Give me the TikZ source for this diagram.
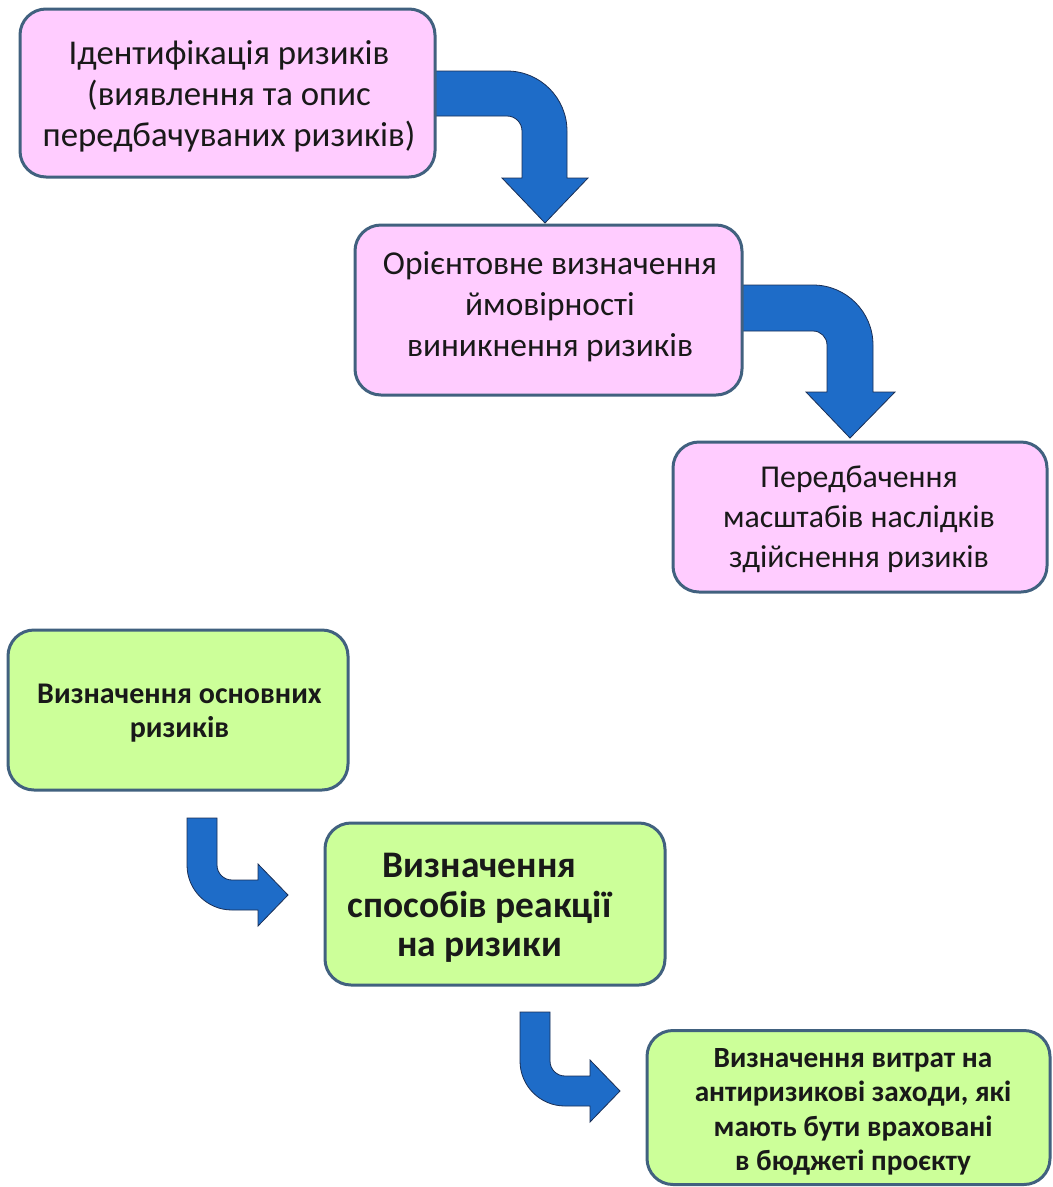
\documentclass[tikz,border=0pt]{standalone}
\usepackage{fontspec}
\setmainfont{Carlito}
\definecolor{pinkfill}{HTML}{FFCCFF}
\definecolor{greenfill}{HTML}{CCFF99}
\definecolor{boxline}{HTML}{41617F}
\definecolor{arrowblue}{HTML}{1E6CC8}
\definecolor{arrowline}{HTML}{1A2F55}
\newcommand\tstr{\rule{0pt}{0.8em}}
\newcommand\bstr{\rule[-0.25em]{0pt}{0.25em}}
\begin{document}
\begin{tikzpicture}[x=1pt,y=-1pt,
  pinkbox/.style={draw=boxline, line width=3pt, fill=pinkfill, rounded corners=26pt, inner sep=0pt},
  greenbox/.style={draw=boxline, line width=3pt, fill=greenfill, rounded corners=26pt, inner sep=0pt},
  boxtext/.style={align=center, inner sep=0pt, text=black!90},
  blockarrow/.style={fill=arrowblue, draw=arrowline, line width=0.8pt, line join=miter}]
\useasboundingbox[fill=white] (0,0) rectangle (1053,1187);

% block arrows (drawn first, boxes overlap their ends)
\draw[blockarrow] (430,71) -- (507,71) arc[start angle=-90,end angle=0,radius=60]
  -- (567,178) -- (588,178) -- (545,223) -- (502,178) -- (522,178) -- (522,131)
  arc[start angle=0,end angle=-90,radius=15] -- (430,116) -- cycle;
\draw[blockarrow] (736,285) -- (813,285) arc[start angle=-90,end angle=0,radius=60]
  -- (873,392) -- (895,392) -- (850,438) -- (806,392) -- (827,392) -- (827,345)
  arc[start angle=0,end angle=-90,radius=14] -- (736,331) -- cycle;
\draw[blockarrow] (187,818) -- (187,865) arc[start angle=180,end angle=90,radius=45]
  -- (258,910) -- (258,926) -- (288,895) -- (258,864) -- (258,880) -- (232,880)
  arc[start angle=90,end angle=180,radius=15] -- (217,818) -- cycle;
\draw[blockarrow] (520,1012) -- (520,1061) arc[start angle=180,end angle=90,radius=45]
  -- (590,1106) -- (590,1122) -- (620,1091) -- (590,1060) -- (590,1076) -- (565,1076)
  arc[start angle=90,end angle=180,radius=15] -- (550,1012) -- cycle;

% pink boxes
\node[pinkbox, minimum width=415pt, minimum height=168pt] (b1) at (227.5,93) {};
\node[boxtext, font=\fontsize{34.8pt}{41pt}\selectfont] (b1t) at (229,96.4)
  {\tstr Ідентифікація ризиків\\(виявлення та опис\\передбачуваних ризиків)\bstr};
\node[pinkbox, minimum width=387pt, minimum height=170pt] (b2) at (548.5,310) {};
\node[boxtext, font=\fontsize{33.4pt}{41pt}\selectfont] (b2t) at (550,306.8)
  {\tstr Орієнтовне визначення\\ймовірності\\виникнення ризиків\bstr};
\node[pinkbox, minimum width=374pt, minimum height=150pt] (b3) at (860,517) {};
\node[boxtext, font=\fontsize{31.8pt}{40pt}\selectfont] (b3t) at (859,518.3)
  {\tstr Передбачення\\масштабів наслідків\\здійснення ризиків\bstr};

% green boxes
\node[greenbox, minimum width=340pt, minimum height=160pt] (g1) at (178,710) {};
\node[boxtext, font=\fontsize{30pt}{34pt}\selectfont\bfseries] (g1t) at (179.5,711.8)
  {\tstr Визначення основних\\ризиків\bstr};
\node[greenbox, minimum width=340pt, minimum height=162pt] (g2) at (495,904) {};
\node[boxtext, font=\fontsize{37.5pt}{39.5pt}\selectfont\bfseries] (g2t) at (479.5,906.7)
  {\tstr Визначення\\способів реакції\\на ризики\bstr};
\node[greenbox, minimum width=403pt, minimum height=154pt] (g3) at (848.5,1107.5) {};
\node[boxtext, font=\fontsize{29.3pt}{34.5pt}\selectfont\bfseries] (g3t) at (853,1111)
  {\tstr Визначення витрат на\\антиризикові заходи, які\\мають бути враховані\\в бюджеті проєкту\bstr};
\end{tikzpicture}
\end{document}
